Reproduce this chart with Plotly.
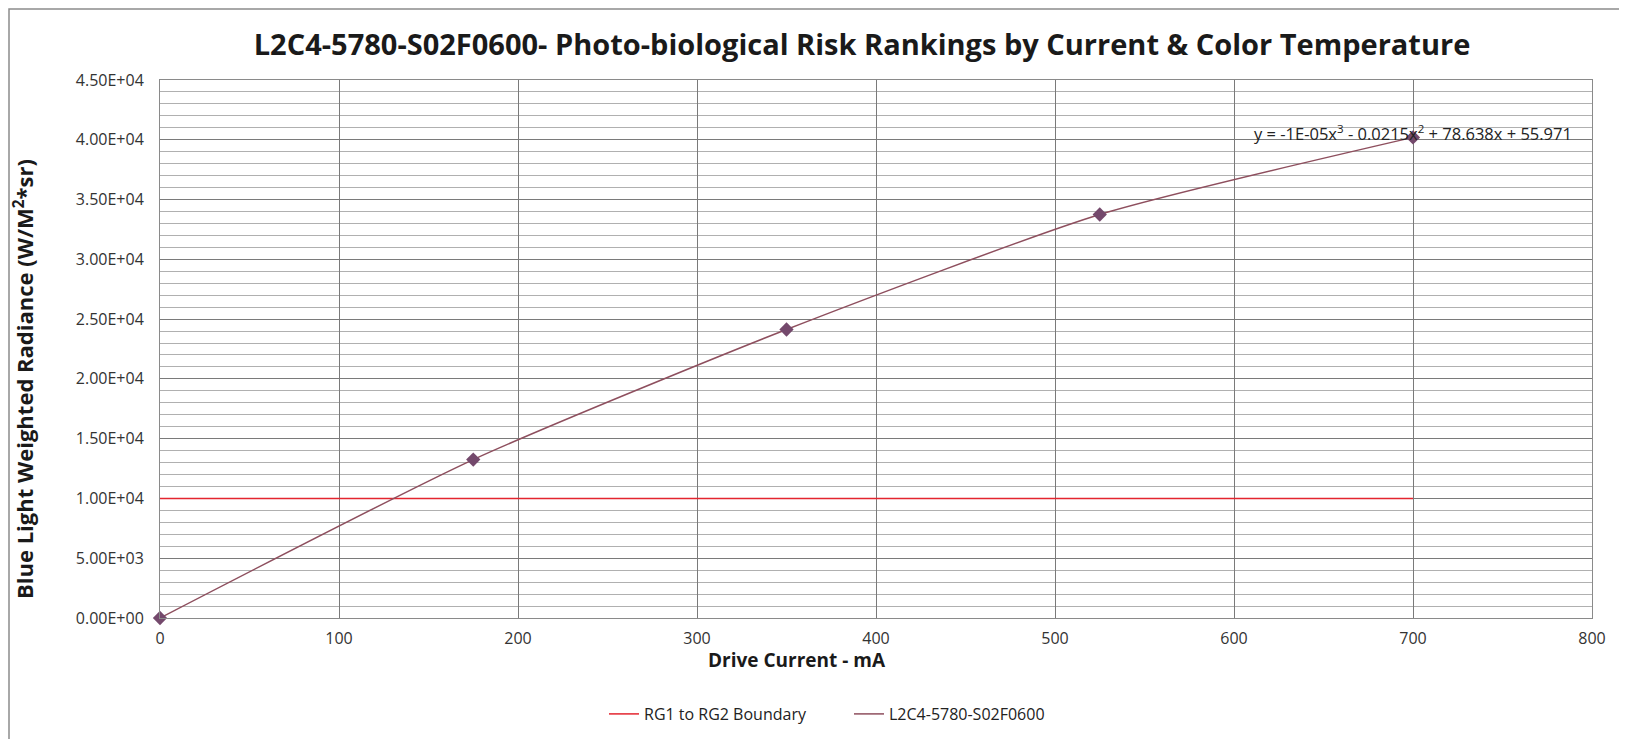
import plotly.graph_objects as go

# Data
current_ma = [0, 175, 350, 525, 700]
radiance = [0, 13250, 24130, 33750, 40200]
boundary_x = [0, 700]
boundary_y = [10000, 10000]
y_tick_vals = [0, 5000, 10000, 15000, 20000, 25000, 30000, 35000, 40000, 45000]
y_tick_text = ["0.00E+00", "5.00E+03", "1.00E+04", "1.50E+04", "2.00E+04",
               "2.50E+04", "3.00E+04", "3.50E+04", "4.00E+04", "4.50E+04"]
x_tick_vals = [0, 100, 200, 300, 400, 500, 600, 700, 800]
equation_text = "y = -1E-05x<sup>3</sup> - 0.0215x<sup>2</sup> + 78.638x + 55.971"

FONT = "Open Sans"
OFF = 8  # page body margin
W, H = 1627 - OFF, 739 - OFF
L, T = 160 - OFF, 80 - OFF
R = W - (1592 - OFF)
B = H - (618 - OFF)
pw, ph = W - L - R, H - T - B

def px_x(page_x):
    return (page_x - OFF - L) / pw

def px_y(page_y):
    return (H - B - (page_y - OFF)) / ph

fig = go.Figure()
fig.add_trace(go.Scatter(
    x=boundary_x, y=boundary_y, mode="lines", name="RG1 to RG2 Boundary",
    line=dict(color="#E3252F", width=1.5)))
fig.add_trace(go.Scatter(
    x=current_ma, y=radiance, mode="lines", name="L2C4-5780-S02F0600",
    line=dict(color="#8E4F5E", width=1.5, shape="spline", smoothing=0.6)))
fig.add_trace(go.Scatter(
    x=current_ma, y=radiance, mode="markers", showlegend=False, cliponaxis=False,
    marker=dict(symbol="diamond", size=11, color="#74496C")))

fig.add_annotation(
    x=700, y=radiance[-1], xref="x", yref="y", text=equation_text,
    showarrow=False, xanchor="center", yanchor="middle", yshift=4,
    font=dict(family=FONT, size=16.5, color="#222222"))

# axis titles as annotations
fig.add_annotation(
    x=px_x(23), y=px_y(379), xref="paper", yref="paper",
    text="<b>Blue Light Weighted Radiance (W/M<sup>2</sup>*sr)</b>",
    textangle=-90, showarrow=False, xanchor="center", yanchor="middle",
    font=dict(family=FONT, size=22, color="#1a1a1a"))
fig.add_annotation(
    x=px_x(797), y=px_y(660), xref="paper", yref="paper",
    text="<b>Drive Current - mA</b>",
    showarrow=False, xanchor="center", yanchor="middle",
    font=dict(family=FONT, size=19, color="#1a1a1a"))

fig.add_shape(type="rect", xref="paper", yref="paper",
              x0=px_x(9), x1=px_x(1660),
              y0=px_y(780), y1=px_y(OFF + 1),
              line=dict(color="#8c8c8c", width=1.5), layer="below")

fig.update_layout(
    width=W, height=H,
    margin=dict(l=L, r=R, t=T, b=B, autoexpand=False),
    paper_bgcolor="white", plot_bgcolor="white",
    title=dict(text="<b>L2C4-5780-S02F0600- Photo-biological Risk Rankings by Current & Color Temperature</b>",
               x=px_x(862), xref="paper", xanchor="center",
               y=1 - (45 - OFF) / H, yref="container", yanchor="middle",
               font=dict(family=FONT, size=29, color="#1a1a1a")),
    legend=dict(orientation="h", x=px_x(849), xanchor="center",
                y=px_y(714), yanchor="middle", entrywidth=200,
                font=dict(family=FONT, size=16, color="#222222"),
                bgcolor="rgba(0,0,0,0)"),
    font=dict(family=FONT),
)

fig.update_xaxes(
    range=[0, 800], tickvals=x_tick_vals, showgrid=True,
    gridcolor="#7a7a7a", gridwidth=1, zeroline=False,
    showline=True, linecolor="#8a8a8a", linewidth=1, mirror=True,
    ticks="", ticklabelstandoff=6, automargin=False,
    tickfont=dict(family=FONT, size=16, color="#333333"))

fig.update_yaxes(
    range=[0, 45000], tickvals=y_tick_vals, ticktext=y_tick_text,
    showgrid=True, gridcolor="#7a7a7a", gridwidth=1, zeroline=False,
    showline=True, linecolor="#8a8a8a", linewidth=1, mirror=True,
    ticks="", ticklabelstandoff=12, automargin=False,
    tickfont=dict(family=FONT, size=16, color="#333333"),
    minor=dict(dtick=1000, showgrid=True, gridcolor="#b0b0b0", gridwidth=1))

fig.write_html("out.html")
